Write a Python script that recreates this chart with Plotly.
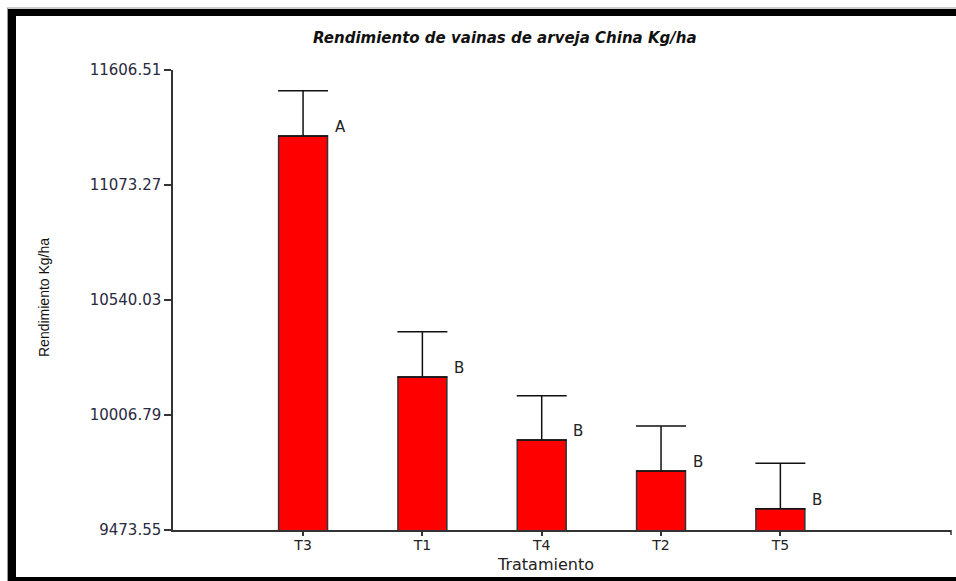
import plotly.graph_objects as go

categories = ["T3", "T1", "T4", "T2", "T5"]
means = [11300, 10183, 9891, 9747, 9572]
errors = [210, 210, 205, 209, 211]
letters = ["A", "B", "B", "B", "B"]
y_ticks = [9473.55, 10006.79, 10540.03, 11073.27, 11606.51]
y_tick_labels = ["9473.55", "10006.79", "10540.03", "11073.27", "11606.51"]

W, H = 956, 581
L, R, T, B = 173, 5, 70, 51
pw, ph = W - L - R, H - T - B

def px(x):
    return (x - L) / pw

def py(y):
    return (H - B - y) / ph

fig = go.Figure()
fig.add_trace(go.Bar(
    x=list(range(len(categories))), y=means, width=0.41,
    marker=dict(color="#FF0000", line=dict(color="#333333", width=1.5)),
    error_y=dict(type="data", symmetric=False, array=errors, arrayminus=[0] * len(errors),
                 color="#111111", thickness=1.5, width=25),
    showlegend=False,
))

annotations = []
for i, (m, l) in enumerate(zip(means, letters)):
    annotations.append(dict(x=i + 0.205, y=m, xref="x", yref="y", text=l, showarrow=False,
                            xanchor="left", yanchor="middle", xshift=5, yshift=9,
                            font=dict(family="DejaVu Sans", size=15, color="#222222")))

annotations.append(dict(x=px(505), y=py(38), xref="paper", yref="paper",
                        text="<b><i>Rendimiento de vainas de arveja China Kg/ha</i></b>",
                        showarrow=False, xanchor="center", yanchor="middle",
                        font=dict(family="DejaVu Sans", size=15, color="#111111")))
annotations.append(dict(x=px(44), y=py(298), xref="paper", yref="paper",
                        text="Rendimiento Kg/ha", textangle=-90,
                        showarrow=False, xanchor="center", yanchor="middle",
                        font=dict(family="Liberation Sans", size=14, color="#111111")))
annotations.append(dict(x=px(545), y=py(564), xref="paper", yref="paper",
                        text="Tratamiento",
                        showarrow=False, xanchor="center", yanchor="middle",
                        font=dict(family="DejaVu Sans", size=16, color="#222222")))

shapes = [
    dict(type="rect", xref="paper", yref="paper", x0=px(8), x1=px(962), y0=py(16), y1=py(9),
         fillcolor="black", line=dict(width=0), layer="above"),
    dict(type="line", xref="paper", yref="paper", x0=px(7), x1=px(962), y0=py(8), y1=py(8),
         line=dict(color="#999999", width=1)),
    dict(type="rect", xref="paper", yref="paper", x0=px(8), x1=px(16), y0=py(581), y1=py(9),
         fillcolor="black", line=dict(width=0), layer="above"),
    dict(type="line", xref="paper", yref="paper", x0=px(7.5), x1=px(7.5), y0=py(581), y1=py(8),
         line=dict(color="#999999", width=1)),
    dict(type="rect", xref="paper", yref="paper", x0=px(8), x1=px(962), y0=py(582), y1=py(577),
         fillcolor="black", line=dict(width=0), layer="above"),
    dict(type="line", xref="paper", yref="paper", x0=1, x1=1, y0=0, y1=py(535),
         line=dict(color="#333333", width=1.5)),
]

fig.update_layout(
    width=W, height=H, margin=dict(l=L, r=R, t=T, b=B),
    paper_bgcolor="white", plot_bgcolor="white",
    annotations=annotations, shapes=shapes,
    xaxis=dict(range=[-1.09, 5.43], tickvals=list(range(len(categories))), ticktext=categories,
               showline=True, linecolor="#333333", linewidth=1.5, ticks="outside", ticklen=4,
               tickcolor="#333333", tickwidth=1.5, showgrid=False, zeroline=False,
               ticklabelstandoff=-3,
               tickfont=dict(family="DejaVu Sans", size=14, color="#222222")),
    yaxis=dict(range=[9473.55, 11606.51], tickvals=y_ticks, ticktext=y_tick_labels,
               showline=True, linecolor="#333333", linewidth=1.5, ticks="outside", ticklen=7,
               tickcolor="#333333", tickwidth=1.5, showgrid=False, zeroline=False,
               tickfont=dict(family="DejaVu Sans", size=15, color="#2a2a40")),
)

fig.write_html("out.html")
